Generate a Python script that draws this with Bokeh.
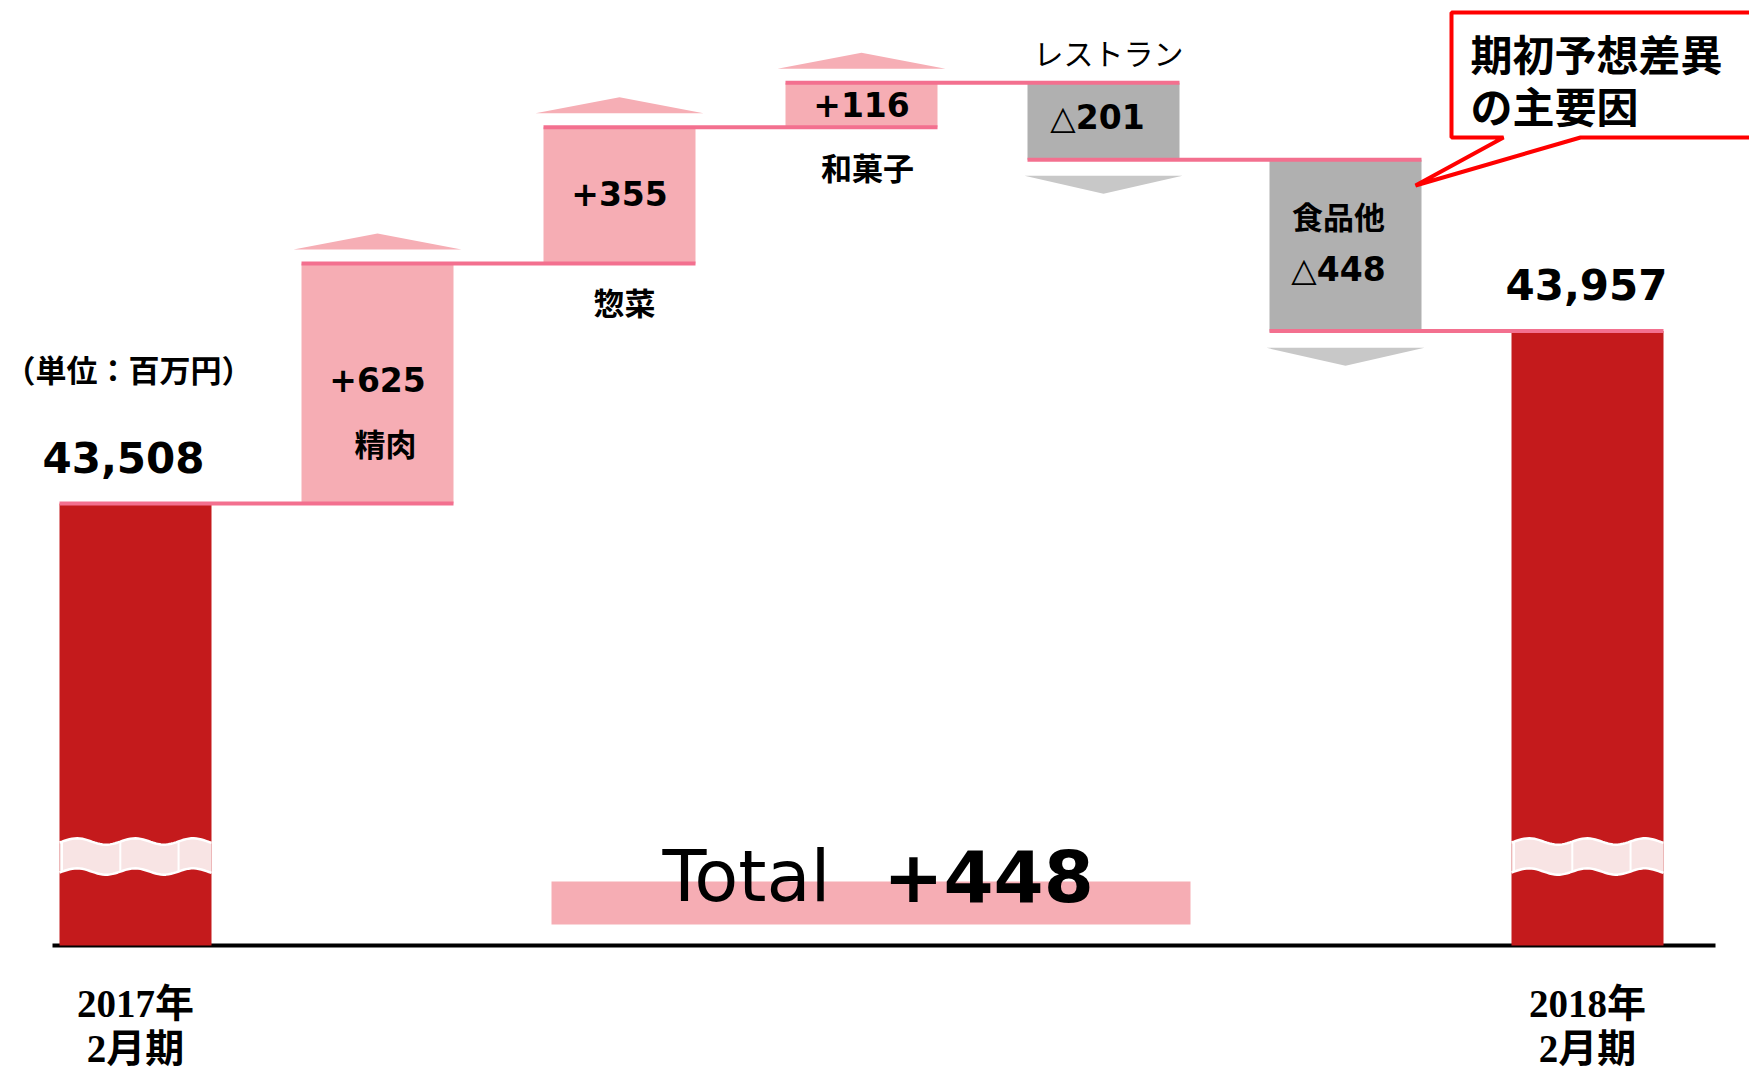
import math
from bokeh.plotting import figure
from bokeh.models import Range1d
from bokeh.embed import file_html
from bokeh.resources import INLINE
from bokeh.core.properties import value

# ---------------- data ----------------
start_value = 43508
end_value = 43957
cat_line1 = ["2017年", "2018年"]
cat_line2 = ["2月期", "2月期"]
step_names = ["精肉", "惣菜", "和菓子", "レストラン", "食品他"]
step_deltas = [625, 355, 116, -201, -448]
unit_label = "（単位：百万円）"
total_word = "Total"
total_value_label = "+448"
callout_lines = ["期初予想差異", "の主要因"]
axis_floor = 42357          # value where the (broken) axis baseline sits

# ---------------- layout / style ----------------
ORIGIN = 0
W, H = 1749, 1073
PX_PER_X = 242.0
PX_PER_UNIT = 0.384
UPP = 1.0 / PX_PER_UNIT
X_START = (ORIGIN - 135) / PX_PER_X
X_END = X_START + W / PX_PER_X
Y_END = start_value + (503 - ORIGIN) * UPP
Y_START = Y_END - H * UPP
BW = 152 / PX_PER_X

RED = "#C41A1C"
PINK = "#F6ADB4"
GREY = "#B0B0B0"
CONN = "#F3708F"
ARROW_UP = "#F6AEB5"
ARROW_DN = "#C8C8C8"
BAND = "#F8E4E4"

NUM_FONT = value("DejaVu Sans")
JP_FONT = value("Noto Sans CJK JP")
SERIF_FONT = value("'Liberation Serif', 'Noto Sans CJK JP'")


def dx(px):
    return px / PX_PER_X


def dy(px):           # px upward on screen -> data units
    return px * UPP


def PX(xp):           # page pixel -> data x (for decorations)
    return X_START + (xp - ORIGIN) / PX_PER_X


def PY(yp):           # page pixel -> data y (for decorations)
    return Y_END - (yp - ORIGIN) * UPP


p = figure(width=W, height=H, x_range=Range1d(X_START, X_END),
           y_range=Range1d(Y_START, Y_END), output_backend="svg",
           toolbar_location=None, min_border=0,
           x_axis_location=None, y_axis_location=None)
for g in p.grid:
    g.visible = False
p.outline_line_color = None
p.background_fill_color = "white"
p.border_fill_color = "white"

# running totals
levels = [start_value]
for d in step_deltas:
    levels.append(levels[-1] + d)

n_steps = len(step_deltas)
end_idx = n_steps + 1

# baseline
p.segment(x0=[PX(52)], y0=[axis_floor], x1=[PX(1715)], y1=[axis_floor],
          line_color="black", line_width=4)

# red total bars
p.quad(left=[0 - BW / 2, end_idx - BW / 2], right=[0 + BW / 2, end_idx + BW / 2],
       bottom=[axis_floor, axis_floor], top=[start_value, end_value],
       fill_color=RED, line_color=None)

# axis break bands on red bars
BREAK = PY(856)
for ci in [0, end_idx]:
    n = 60
    xs_top, ys_top, xs_bot, ys_bot = [], [], [], []
    for k in range(n + 1):
        xpx = 152.0 * k / n
        w = 3.2 * math.sin(2 * math.pi * (xpx - 3) / 58.0)
        xs_top.append(ci - BW / 2 + dx(xpx))
        ys_top.append(BREAK + dy(15 + w))
        xs_bot.append(ci - BW / 2 + dx(xpx))
        ys_bot.append(BREAK - dy(15 - w))
    p.patch(xs_top + xs_bot[::-1], ys_top + ys_bot[::-1], fill_color=BAND,
            line_color=None)
    p.line(xs_top, ys_top, line_color="white", line_width=2.5)
    p.line(xs_bot, ys_bot, line_color="white", line_width=2.5)
    for vx in [3, 62, 120]:
        k = int(round(vx / 152.0 * n))
        p.segment(x0=[xs_top[k]], y0=[ys_top[k]], x1=[xs_bot[k]], y1=[ys_bot[k]],
                  line_color="white", line_width=2)

# step bars
s_left, s_right, s_bot, s_top, s_col = [], [], [], [], []
for i, d in enumerate(step_deltas):
    c = i + 1
    lo, hi = min(levels[i], levels[i + 1]), max(levels[i], levels[i + 1])
    s_left.append(c - BW / 2)
    s_right.append(c + BW / 2)
    s_bot.append(lo)
    s_top.append(hi)
    s_col.append(PINK if d > 0 else GREY)
p.quad(left=s_left, right=s_right, bottom=s_bot, top=s_top,
       fill_color=s_col, line_color=None)

# connectors
cx0, cx1, cy = [], [], []
for i in range(n_steps + 1):
    lvl = levels[i] if i < n_steps else end_value
    cx0.append(i - BW / 2)
    cx1.append(i + 1 + BW / 2)
    cy.append(lvl)
p.segment(x0=cx0, y0=cy, x1=cx1, y1=cy, line_color=CONN, line_width=4)

# direction arrows
a_xs, a_ys, a_col = [], [], []
for i, d in enumerate(step_deltas):
    c = i + 1
    if d > 0:
        base, apex, hw = s_top[i] + dy(14), s_top[i] + dy(30), dx(84)
        a_col.append(ARROW_UP)
    else:
        base, apex, hw = s_bot[i] - dy(16), s_bot[i] - dy(34), dx(79)
        a_col.append(ARROW_DN)
    a_xs.append([c - hw, c + hw, c])
    a_ys.append([base, base, apex])
p.patches(xs=a_xs, ys=a_ys, fill_color=a_col, line_color=None)

# value labels of steps
val_off = [(0, -4), (0, -2), (0, 0), (-6, -4), (-7, 24)]
vx, vy, vt = [], [], []
for i, d in enumerate(step_deltas):
    c = i + 1
    mid = (s_top[i] + s_bot[i]) / 2
    ox, oy = val_off[i]
    vx.append(c + dx(ox))
    vy.append(mid - dy(oy))
    vt.append(("+%d" % d) if d > 0 else ("△%d" % (-d)))
p.text(x=vx, y=vy, text=vt, text_font=NUM_FONT, text_font_size="33px",
       text_font_style="bold", text_align="center", text_baseline="middle",
       text_color="black")

# name labels of steps (anchor, dx px, dy px downward)
name_pos = [("mid", 8, 59), ("bottom", 5, 38), ("bottom", 6, 39),
            ("top", 5, -31), ("mid", -7, -30)]
nx, ny, nt = [], [], []
for i, name in enumerate(step_names):
    c = i + 1
    anchor, ox, oy = name_pos[i]
    ref = {"mid": (s_top[i] + s_bot[i]) / 2, "top": s_top[i], "bottom": s_bot[i]}[anchor]
    nx.append(c + dx(ox))
    ny.append(ref - dy(oy))
    nt.append(name)
bold_idx = [0, 1, 2, 4]
p.text(x=[nx[i] for i in bold_idx], y=[ny[i] for i in bold_idx],
       text=[nt[i] for i in bold_idx], text_font=JP_FONT, text_font_size="31px",
       text_font_style="bold", text_align="center", text_baseline="middle",
       text_color="black")
reg_idx = [3]
p.text(x=[nx[i] for i in reg_idx], y=[ny[i] for i in reg_idx],
       text=[nt[i] for i in reg_idx], text_font=JP_FONT, text_font_size="30px",
       text_font_style="normal", text_align="center", text_baseline="middle",
       text_color="black")

# start / end totals
p.text(x=[0 + dx(-12), end_idx + dx(-1)],
       y=[start_value + dy(46), end_value + dy(47)],
       text=["{:,}".format(start_value), "{:,}".format(end_value)],
       text_font=NUM_FONT, text_font_size="42px", text_font_style="bold",
       text_align="center", text_baseline="middle", text_color="black")

# unit label
p.text(x=[0 + dx(-7)], y=[start_value + dy(135)], text=[unit_label],
       text_font=JP_FONT, text_font_size="31px", text_font_style="bold",
       text_align="center", text_baseline="middle", text_color="black")

# category labels under the axis
p.text(x=[0, end_idx], y=[axis_floor - dy(58)] * 2, text=cat_line1,
       text_font=SERIF_FONT, text_font_size="39px", text_font_style="bold",
       text_align="center", text_baseline="middle", text_color="black")
p.text(x=[0, end_idx], y=[axis_floor - dy(103)] * 2, text=cat_line2,
       text_font=SERIF_FONT, text_font_size="39px", text_font_style="bold",
       text_align="center", text_baseline="middle", text_color="black")

# total banner
p.quad(left=[PX(551)], right=[PX(1190)], bottom=[PY(924)], top=[PY(881)],
       fill_color=PINK, line_color=None)
p.text(x=[PX(746)], y=[PY(875)], text=[total_word], text_font=NUM_FONT,
       text_font_size="72px", text_font_style="normal", text_align="center",
       text_baseline="middle", text_color="black")
p.text(x=[PX(988)], y=[PY(875)], text=[total_value_label], text_font=NUM_FONT,
       text_font_size="72px", text_font_style="bold", text_align="center",
       text_baseline="middle", text_color="black")

# callout
pts = [(1451, 12), (1770, 12), (1770, 137), (1580, 137), (1415, 185),
       (1503, 137), (1451, 137)]
p.patch([PX(a) for a, b in pts], [PY(b) for a, b in pts], fill_color="white",
        line_color="#FF0000", line_width=4)
p.text(x=[PX(1470), PX(1470)], y=[PY(52), PY(104)], text=callout_lines,
       text_font=JP_FONT, text_font_size="42px", text_font_style="bold",
       text_align="left", text_baseline="middle", text_color="black")

open("out.html", "w").write(file_html(p, INLINE))
